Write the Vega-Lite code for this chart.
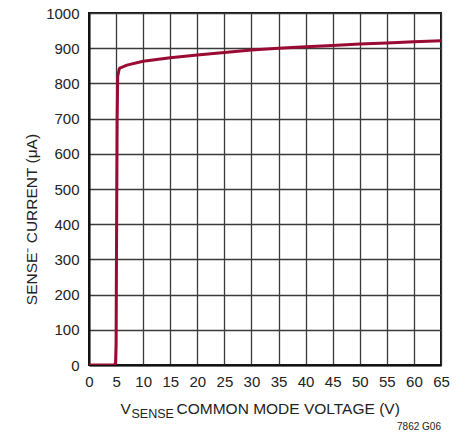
{
  "$schema": "https://vega.github.io/schema/vega-lite/v6.json",
  "width": 352,
  "height": 352,
  "autosize": {"type": "none"},
  "padding": {"left": 89, "top": 13, "right": 25, "bottom": 69},
  "title": {"text": "7862 G06", "orient": "bottom", "anchor": "end", "fontSize": 10, "font": "Liberation Sans, Arial, sans-serif", "fontWeight": "normal", "color": "#222", "offset": 2, "frame": "group"},
  "data": {"values": [
    {"v": 0, "i": 0}, {"v": 4.6, "i": 0}, {"v": 4.9, "i": 5}, {"v": 5.0, "i": 60},
    {"v": 5.1, "i": 400}, {"v": 5.2, "i": 700}, {"v": 5.3, "i": 820}, {"v": 5.6, "i": 843},
    {"v": 7, "i": 852}, {"v": 10, "i": 863}, {"v": 15, "i": 873}, {"v": 20, "i": 881},
    {"v": 25, "i": 888}, {"v": 30, "i": 895}, {"v": 35, "i": 900}, {"v": 40, "i": 904},
    {"v": 45, "i": 908}, {"v": 50, "i": 912}, {"v": 55, "i": 915}, {"v": 60, "i": 918},
    {"v": 65, "i": 921}
  ]},
  "config": {
    "view": {"stroke": "#111", "strokeWidth": 2},
    "font": "Liberation Sans, Arial, sans-serif",
    "axis": {
      "labelFont": "Liberation Sans, Arial, sans-serif",
      "titleFont": "Liberation Sans, Arial, sans-serif",
      "labelFontSize": 15,
      "titleFontSize": 15.5,
      "titleFontWeight": "normal",
      "labelColor": "#222",
      "titleColor": "#222",
      "ticks": false,
      "gridColor": "#3a3a3a",
      "gridWidth": 1.3,
      "gridOpacity": 1,
      "domainColor": "#111",
      "domainWidth": 2
    }
  },
  "layer": [
    {
      "mark": {"type": "line", "color": "#9a0a33", "strokeWidth": 3, "strokeJoin": "round", "strokeCap": "round", "clip": true},
      "encoding": {
        "x": {"field": "v", "type": "quantitative", "scale": {"domain": [0, 65], "nice": false},
          "axis": {"orient": "bottom", "values": [0,5,10,15,20,25,30,35,40,45,50,55,60,65], "grid": true, "labelPadding": 9, "labelFlush": false,
            "title": "V", "titleX": 31, "titleY": 48, "titleAlign": "left", "titleBaseline": "alphabetic"}},
        "y": {"field": "i", "type": "quantitative", "scale": {"domain": [0, 1000], "nice": false},
          "axis": {"values": [0,100,200,300,400,500,600,700,800,900,1000], "format": "d", "grid": true, "labelPadding": 10, "labelFlush": false,
            "title": "SENSE⁻ CURRENT (μA)", "titleX": -53, "titleY": 206, "titleAlign": "center", "titleBaseline": "alphabetic", "titleAngle": 270}}
      }
    },
    {
      "mark": {"type": "rule", "strokeOpacity": 0},
      "encoding": {
        "x": {"field": "v", "type": "quantitative",
          "axis": {"orient": "bottom", "grid": false, "labels": false, "domain": false, "ticks": false,
            "title": "SENSE", "titleFontSize": 12.5, "titleX": 42, "titleY": 52, "titleAlign": "left", "titleBaseline": "alphabetic"}}
      }
    },
    {
      "mark": {"type": "rule", "strokeOpacity": 0},
      "encoding": {
        "x": {"field": "v", "type": "quantitative",
          "axis": {"orient": "bottom", "grid": false, "labels": false, "domain": false, "ticks": false,
            "title": "COMMON MODE VOLTAGE (V)", "titleX": 87, "titleY": 48, "titleAlign": "left", "titleBaseline": "alphabetic"}}
      }
    }
  ],
  "resolve": {"axis": {"x": "independent"}}
}
